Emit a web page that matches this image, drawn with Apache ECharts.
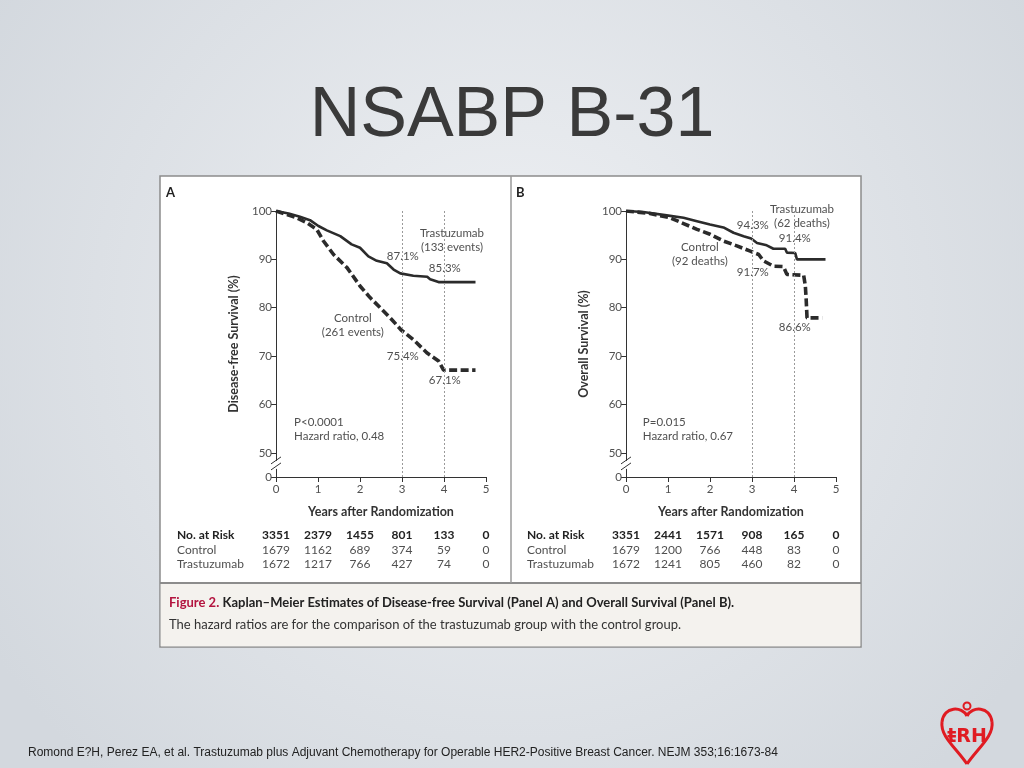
<!DOCTYPE html>
<html><head><meta charset="utf-8">
<script src="https://cdn.jsdelivr.net/npm/echarts@6/dist/echarts.min.js"></script>
<style>html,body{margin:0;padding:0;width:1024px;height:768px;overflow:hidden}#c{width:1024px;height:768px}</style>
</head><body><div id="c"></div><script>
// ---------- data ----------
const yearTicks = [0, 1, 2, 3, 4, 5];
const yTickValues = [45, 50, 60, 70, 80, 90, 100]; // 45 is shown as the broken-axis "0"

const dfsTrastuzumab = [[0,100],[0.3,99.5],[0.57,98.8],[0.81,98.1],[1.01,96.9],[1.21,96.0],[1.53,94.8],[1.8,93.1],[2.0,92.4],[2.2,90.6],[2.4,89.7],[2.64,89.2],[2.8,87.9],[2.96,87.1],[3.27,86.6],[3.6,86.4],[3.67,85.9],[3.87,85.3],[4.75,85.3]];
const dfsControl = [[0,100],[0.49,98.6],[0.73,97.6],[0.97,96.2],[1.13,93.8],[1.37,91.0],[1.69,88.3],[2.0,84.5],[2.24,82.1],[2.48,80.0],[2.72,77.9],[2.98,75.4],[3.27,73.4],[3.59,70.7],[3.87,69.0],[3.99,67.1],[4.75,67.1]];
const osTrastuzumab = [[0,100],[0.41,99.8],[0.97,99.1],[1.37,98.6],[1.69,97.9],[2.0,97.2],[2.32,96.6],[2.56,95.5],[2.8,94.8],[2.98,94.3],[3.12,93.4],[3.35,92.9],[3.51,92.2],[3.79,92.2],[3.83,91.4],[4.03,91.3],[4.07,90.0],[4.75,90.0]];
const osControl = [[0,100],[0.57,99.5],[1.05,98.6],[1.37,97.4],[1.69,96.2],[2.0,95.2],[2.32,93.8],[2.64,92.8],[2.96,91.7],[3.16,91.0],[3.27,89.7],[3.51,88.6],[3.75,88.5],[3.83,86.9],[4.23,86.7],[4.27,84.5],[4.29,81.7],[4.31,77.9],[4.67,77.9]];

const riskRowLabels = ['No. at Risk', 'Control', 'Trastuzumab'];
const dfsRiskTotal = [3351, 2379, 1455, 801, 133, 0];
const dfsRiskControl = [1679, 1162, 689, 374, 59, 0];
const dfsRiskTrastuzumab = [1672, 1217, 766, 427, 74, 0];
const osRiskTotal = [3351, 2441, 1571, 908, 165, 0];
const osRiskControl = [1679, 1200, 766, 448, 83, 0];
const osRiskTrastuzumab = [1672, 1241, 805, 460, 82, 0];

const dfsPointLabels = ['87.1%', '85.3%', '75.4%', '67.1%'];
const osPointLabels = ['94.3%', '91.4%', '91.7%', '86.6%'];
const dfsNotes = ['Trastuzumab\n(133 events)', 'Control\n(261 events)', 'P<0.0001\nHazard ratio, 0.48'];
const osNotes = ['Trastuzumab\n(62 deaths)', 'Control\n(92 deaths)', 'P=0.015\nHazard ratio, 0.67'];

// ---------- chart ----------
const chart = echarts.init(document.getElementById('c'));
const FF = 'Lato, "Open Sans", sans-serif';
const INK = '#2b2b2b';
const LABEL = '#505050';

function xAxisCfg(gi) {
  return {
    gridIndex: gi, type: 'value', min: 0, max: 5, interval: 1,
    axisLine: { lineStyle: { color: '#333', width: 1 } },
    axisTick: { show: true, length: 5, lineStyle: { color: '#333' } },
    axisLabel: { color: LABEL, fontSize: 11.5, fontFamily: FF, margin: 6 },
    splitLine: { show: false },
    name: 'Years after Randomization', nameLocation: 'middle', nameGap: 28,
    nameTextStyle: { color: '#333', fontSize: 12.5, fontWeight: 'bold', fontFamily: FF }
  };
}
function yAxisCfg(gi, name) {
  return {
    gridIndex: gi, type: 'value', min: 45, max: 100,
    axisLine: { show: true, lineStyle: { color: '#333', width: 1 } },
    axisTick: { show: true, length: 5, customValues: yTickValues, lineStyle: { color: '#333' } },
    axisLabel: { color: LABEL, fontSize: 11.5, fontFamily: FF, margin: 4, customValues: yTickValues,
      formatter: v => (v === 45 ? '0' : String(v)) },
    splitLine: { show: false },
    name: name, nameLocation: 'middle', nameGap: 36, nameRotate: 90,
    nameTextStyle: { color: '#333', fontSize: 12.5, fontWeight: 'bold', fontFamily: FF }
  };
}
function annot(text, coord, align) {
  return {
    coord: coord, symbolSize: 0, value: text,
    label: { show: true, position: 'inside', formatter: text, color: LABEL, fontSize: 11.5, fontFamily: FF,
      lineHeight: 14, align: align || 'center', verticalAlign: 'middle' }
  };
}
function guideLines() {
  return {
    silent: true, symbol: 'none', label: { show: false },
    lineStyle: { color: '#9a9a9a', type: [2, 2], width: 1 },
    data: [[{ coord: [3, 100] }, { coord: [3, 45] }], [{ coord: [4, 100] }, { coord: [4, 45] }]]
  };
}
function breakSeries(gi) {
  return {
    type: 'custom', xAxisIndex: gi, yAxisIndex: gi, clip: false, silent: true, z: 5,
    data: [[0, 47.5]],
    renderItem: (params, api) => {
      const p = api.coord([api.value(0), api.value(1)]);
      return { type: 'group', children: [
        { type: 'rect', shape: { x: p[0] - 2, y: p[1] - 4, width: 4, height: 8 }, style: { fill: '#fff' } },
        { type: 'line', shape: { x1: p[0] - 5, y1: p[1] - 1, x2: p[0] + 5, y2: p[1] - 8 }, style: { stroke: '#333', lineWidth: 1 } },
        { type: 'line', shape: { x1: p[0] - 5, y1: p[1] + 5, x2: p[0] + 5, y2: p[1] - 2 }, style: { stroke: '#333', lineWidth: 1 } }
      ] };
    }
  };
}
function solid(gi, data, marks) {
  return { type: 'line', xAxisIndex: gi, yAxisIndex: gi, data: data, showSymbol: false, symbol: 'none',
    lineStyle: { color: INK, width: 2.6 }, z: 3, markLine: guideLines(),
    markPoint: { symbol: 'circle', symbolSize: 0, data: marks } };
}
function dashed(gi, data, marks) {
  return { type: 'line', xAxisIndex: gi, yAxisIndex: gi, data: data, showSymbol: false, symbol: 'none',
    lineStyle: { color: INK, width: 3.6, type: [8, 3.5] }, z: 4,
    markPoint: { symbol: 'circle', symbolSize: 0, data: marks } };
}

const option = {
  animation: false,
  backgroundColor: 'transparent',
  grid: [
    { left: 276, right: 538, top: 211, bottom: 291 },
    { left: 626, right: 188, top: 211, bottom: 291 }
  ],
  xAxis: [xAxisCfg(0), xAxisCfg(1)],
  yAxis: [yAxisCfg(0, 'Disease-free Survival (%)'), yAxisCfg(1, 'Overall Survival (%)')],
  series: [
    solid(0, dfsTrastuzumab, [
      annot(dfsNotes[0], [4.19, 93.9]),
      annot(dfsPointLabels[0], [3.02, 90.7]),
      annot(dfsPointLabels[1], [4.02, 88.2]),
      annot(dfsNotes[2], [0.43, 54.8], 'left')
    ]),
    dashed(0, dfsControl, [
      annot(dfsNotes[1], [1.83, 76.4]),
      annot(dfsPointLabels[2], [3.02, 70.0]),
      annot(dfsPointLabels[3], [4.02, 65.0])
    ]),
    breakSeries(0),
    solid(1, osTrastuzumab, [
      annot(osNotes[0], [4.19, 98.85]),
      annot(osPointLabels[0], [3.02, 97.1]),
      annot(osPointLabels[1], [4.02, 94.4]),
      annot(osNotes[2], [0.40, 54.8], 'left')
    ]),
    dashed(1, osControl, [
      annot(osNotes[1], [1.76, 91.1]),
      annot(osPointLabels[2], [3.02, 87.4]),
      annot(osPointLabels[3], [4.02, 76.0])
    ]),
    breakSeries(1)
  ]
};
chart.setOption(option);

// ---------- slide furniture & risk table ----------
const g = [];
g.push({ type: 'rect', z: -20, silent: true, shape: { x: 0, y: 0, width: 1024, height: 768 },
  style: { fill: { type: 'radial', x: 0.5, y: 0.42, r: 0.8, colorStops: [{ offset: 0, color: '#eff1f4' }, { offset: 1, color: '#d3d8de' }] } } });
g.push({ type: 'text', z: 10, x: 512, y: 117, style: { text: 'NSABP B-31', fill: '#3a3a3a', fontSize: 70,
  fontFamily: '"Liberation Sans", Arial, sans-serif', align: 'center', verticalAlign: 'middle' } });
g.push({ type: 'rect', z: -10, silent: true, shape: { x: 160, y: 176, width: 701, height: 471 },
  style: { fill: '#ffffff', stroke: '#8c8c8c', lineWidth: 1.5 } });
g.push({ type: 'rect', z: -9, silent: true, shape: { x: 160.75, y: 583, width: 699.5, height: 63.25 },
  style: { fill: '#f4f2ee' } });
g.push({ type: 'line', z: -8, silent: true, shape: { x1: 160, y1: 583, x2: 861, y2: 583 }, style: { stroke: '#8c8c8c', lineWidth: 2 } });
g.push({ type: 'line', z: -8, silent: true, shape: { x1: 511, y1: 176, x2: 511, y2: 583 }, style: { stroke: '#9a9a9a', lineWidth: 1.5 } });
g.push({ type: 'text', z: 10, x: 166, y: 193, style: { text: 'A', fill: '#222', fontSize: 13, fontWeight: 'bold', fontFamily: FF, verticalAlign: 'middle' } });
g.push({ type: 'text', z: 10, x: 516, y: 193, style: { text: 'B', fill: '#222', fontSize: 13, fontWeight: 'bold', fontFamily: FF, verticalAlign: 'middle' } });

const rowY = [535, 550, 564];
function riskTable(gi, labelX, rows) {
  riskRowLabels.forEach((lab, r) => {
    g.push({ type: 'text', z: 10, x: labelX, y: rowY[r], style: { text: lab, fill: r === 0 ? '#222' : LABEL,
      fontSize: 12, fontWeight: r === 0 ? 'bold' : 'normal', fontFamily: FF, verticalAlign: 'middle' } });
    yearTicks.forEach((yr, i) => {
      const px = chart.convertToPixel({ gridIndex: gi }, [yr, 50])[0];
      g.push({ type: 'text', z: 10, x: px, y: rowY[r], style: { text: String(rows[r][i]), fill: r === 0 ? '#222' : LABEL,
        fontSize: 12, fontWeight: r === 0 ? 'bold' : 'normal', fontFamily: FF, align: 'center', verticalAlign: 'middle' } });
    });
  });
}
riskTable(0, 177, [dfsRiskTotal, dfsRiskControl, dfsRiskTrastuzumab]);
riskTable(1, 527, [osRiskTotal, osRiskControl, osRiskTrastuzumab]);

g.push({ type: 'text', z: 10, x: 169, y: 603, style: {
  text: '{r|Figure 2.} {b|Kaplan–Meier Estimates of Disease-free Survival (Panel A) and Overall Survival (Panel B).}',
  verticalAlign: 'middle',
  rich: { r: { fill: '#b3143f', fontSize: 13, fontWeight: 'bold', fontFamily: FF },
          b: { fill: '#222', fontSize: 13, fontWeight: 'bold', fontFamily: FF } } } });
g.push({ type: 'text', z: 10, x: 169, y: 625, style: { text: 'The hazard ratios are for the comparison of the trastuzumab group with the control group.',
  fill: '#333', fontSize: 13, fontFamily: FF, verticalAlign: 'middle' } });

g.push({ type: 'text', z: 10, x: 28, y: 753, style: {
  text: 'Romond E?H, Perez EA, et al. Trastuzumab plus Adjuvant Chemotherapy for Operable HER2-Positive Breast Cancer. NEJM 353;16:1673-84',
  fill: '#222', fontSize: 12, fontFamily: '"Liberation Sans", Arial, sans-serif', verticalAlign: 'middle' } });

// logo
const RED = '#e01b22';
const heart = [
  [29, 16, 4, 22, 24, 6, 6, 6],
  [4, 22, 29, 64, 2, 36, 18, 48],
  [29, 64, 54, 22, 40, 48, 56, 36],
  [54, 22, 29, 16, 52, 6, 34, 6]
];
const logoChildren = heart.map(c => ({ type: 'bezierCurve',
  shape: { x1: c[0], y1: c[1], x2: c[2], y2: c[3], cpx1: c[4], cpy1: c[5], cpx2: c[6], cpy2: c[7] },
  style: { fill: null, stroke: RED, lineWidth: 3 } }));
logoChildren.push({ type: 'circle', shape: { cx: 29, cy: 6, r: 3.5 }, style: { fill: null, stroke: RED, lineWidth: 2 } });
logoChildren.push({ type: 'text', x: 29, y: 37, style: { text: 'ŧRH', fill: RED, fontSize: 19, fontWeight: 'bold',
  fontFamily: '"DejaVu Sans", sans-serif', align: 'center', verticalAlign: 'middle' } });
g.push({ type: 'group', z: 10, x: 938, y: 700, children: logoChildren });

chart.setOption({ graphic: { elements: g } });
</script></body></html>
